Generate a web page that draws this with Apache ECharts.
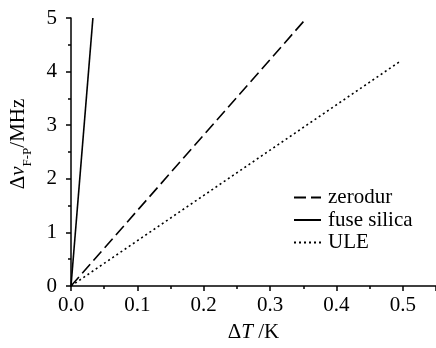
<!DOCTYPE html>
<html>
<head>
<meta charset="utf-8">
<script src="https://cdn.jsdelivr.net/npm/echarts@6/dist/echarts.min.js"></script>
<style>html,body{margin:0;padding:0;background:#fff}#c{width:436px;height:348px}</style>
</head>
<body>
<div id="c"></div>
<script>
const seriesNames = ['zerodur', 'fuse silica', 'ULE'];
const zerodurData = [[0, 0], [0.355, 5]];
const fuseSilicaData = [[0, 0], [0.033, 5]];
const uleData = [[0, 0], [0.497, 4.2]];
const xTicks = [0.0, 0.1, 0.2, 0.3, 0.4, 0.5];
const yTicks = [0, 1, 2, 3, 4, 5];

const font = 'Liberation Serif';
const chart = echarts.init(document.getElementById('c'), null, {renderer: 'canvas'});
chart.setOption({
  animation: false,
  backgroundColor: '#fff',
  grid: {left: 67, right: 0, top: 18, bottom: 56, containLabel: false},
  legend: {
    orient: 'vertical', left: 288, top: 182, itemWidth: 27, itemHeight: 12, itemGap: 1.5,
    itemStyle: {color: 'transparent', borderWidth: 0, opacity: 0},
    textStyle: {fontFamily: font, fontSize: 21, lineHeight: 21, color: '#000', padding: [0, 0, 0, 2]},
    data: seriesNames
  },
  xAxis: {
    type: 'value', min: 0, max: 0.55, interval: 0.1,
    name: '{a|Δ}{i|T}{a| /K}', nameLocation: 'middle', nameGap: 36,
    nameTextStyle: {rich: {
      a: {fontFamily: font, fontSize: 21, color: '#000'},
      i: {fontFamily: font, fontSize: 21, fontStyle: 'italic', color: '#000'}
    }},
    axisLine: {lineStyle: {color: '#000', width: 1.5}},
    axisTick: {length: 5, inside: false, lineStyle: {color: '#000', width: 1.5}},
    minorTick: {show: true, splitNumber: 2, length: 3, lineStyle: {color: '#000', width: 1.5}},
    splitLine: {show: false},
    axisLabel: {fontFamily: font, fontSize: 21, color: '#000', margin: 9, showMaxLabel: false,
      formatter: v => xTicks.some(t => Math.abs(t - v) < 1e-9) ? v.toFixed(1) : ''}
  },
  yAxis: {
    type: 'value', min: 0, max: 5, interval: 1,
    name: '{a|Δ}{i|ν}{s|F-P}{a|/MHz}', nameLocation: 'middle', nameGap: 37, nameRotate: 90,
    nameTextStyle: {padding: [0, 0, 0, 16], rich: {
      a: {fontFamily: font, fontSize: 21, lineHeight: 26, verticalAlign: 'top', color: '#000'},
      i: {fontFamily: font, fontSize: 21, lineHeight: 26, verticalAlign: 'top', fontStyle: 'italic', color: '#000'},
      s: {fontFamily: font, fontSize: 13, lineHeight: 26, verticalAlign: 'bottom', color: '#000'}
    }},
    axisLine: {show: true, lineStyle: {color: '#000', width: 1.5}},
    axisTick: {show: true, length: 5, lineStyle: {color: '#000', width: 1.5}},
    minorTick: {show: true, splitNumber: 2, length: 3, lineStyle: {color: '#000', width: 1.5}},
    splitLine: {show: false},
    axisLabel: {fontFamily: font, fontSize: 21, color: '#000', margin: 14,
      formatter: v => yTicks.includes(v) ? String(v) : ''}
  },
  series: [
    {name: seriesNames[0], type: 'line', data: zerodurData, symbol: 'none',
     lineStyle: {color: '#000', width: 1.6, type: [12, 5]}, itemStyle: {color: '#000'}},
    {name: seriesNames[1], type: 'line', data: fuseSilicaData, symbol: 'none',
     lineStyle: {color: '#000', width: 1.6, type: 'solid'}, itemStyle: {color: '#000'}},
    {name: seriesNames[2], type: 'line', data: uleData, symbol: 'none',
     lineStyle: {color: '#000', width: 1.6, type: [2, 3]}, itemStyle: {color: '#000'}}
  ]
});
</script>
</body>
</html>
